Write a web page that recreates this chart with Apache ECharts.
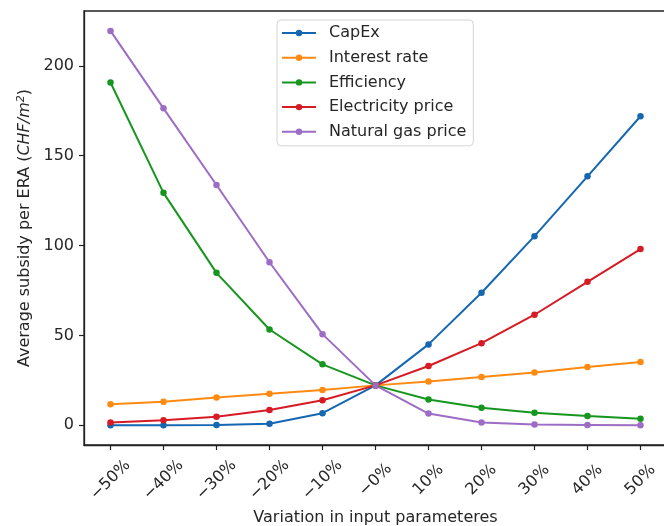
<!DOCTYPE html>
<html>
<head>
<meta charset="utf-8">
<script src="https://cdn.jsdelivr.net/npm/echarts@6/dist/echarts.min.js"></script>
<style>
  html, body { margin: 0; padding: 0; background: #fff; }
  #chart { width: 664px; height: 526px; }
</style>
</head>
<body>
<div id="chart"></div>
<script>
// Sensitivity of the average subsidy to each input parameter
const variations = ['\u221250%', '\u221240%', '\u221230%', '\u221220%', '\u221210%', '\u22120%',
                    '10%', '20%', '30%', '40%', '50%'];
const capex       = [0.0, 0.0, 0.1, 0.8, 6.7, 22.2, 45.0, 73.7, 105.2, 138.5, 171.9];
const interest    = [11.7, 13.1, 15.4, 17.5, 19.6, 22.2, 24.3, 26.9, 29.4, 32.4, 35.2];
const efficiency  = [190.7, 129.3, 84.8, 53.3, 33.9, 22.2, 14.3, 9.8, 7.0, 5.2, 3.7];
const electricity = [1.5, 2.8, 4.8, 8.5, 13.9, 22.2, 33.0, 45.7, 61.5, 79.8, 98.0];
const naturalGas  = [219.4, 176.3, 133.7, 90.7, 50.7, 22.2, 6.5, 1.5, 0.4, 0.2, 0.0];
const yTicks = [0, 50, 100, 150, 200];

const seriesDefs = [
  { name: 'CapEx', data: capex, color: '#1667b2' },
  { name: 'Interest rate', data: interest, color: '#ff8a12' },
  { name: 'Efficiency', data: efficiency, color: '#16961e' },
  { name: 'Electricity price', data: electricity, color: '#d61b24' },
  { name: 'Natural gas price', data: naturalGas, color: '#9d6cc4' }
];

const FONT = 'DejaVu Sans';
const TEXT = '#262626';
const FS = 16;

const chart = echarts.init(document.getElementById('chart'), null, { renderer: 'canvas' });

chart.setOption({
  animation: false,
  backgroundColor: '#fff',
  textStyle: { fontFamily: FONT, color: TEXT },
  grid: {
    left: 84, right: -3, top: 11, bottom: 81,
    outerBoundsMode: 'none',
    containLabel: false,
    show: true, borderColor: '#222', borderWidth: 1.3, backgroundColor: 'transparent'
  },
  legend: {
    orient: 'vertical',
    left: 277, top: 20,
    padding: [4, 7, 5, 4],
    itemWidth: 34, itemHeight: 8, itemGap: 6.7,
    backgroundColor: 'rgba(255,255,255,0.85)',
    borderColor: '#d4d4d4', borderWidth: 1, borderRadius: 4,
    textStyle: { fontFamily: FONT, fontSize: FS, color: TEXT, lineHeight: 18, padding: [0, 0, 0, 8] },
    data: seriesDefs.map(s => s.name)
  },
  xAxis: {
    type: 'category',
    data: variations,
    boundaryGap: true,
    name: 'Variation in input parameteres',
    nameLocation: 'middle',
    nameGap: 61,
    nameTextStyle: { fontFamily: FONT, fontSize: FS, color: TEXT },
    axisLine: { show: true, onZero: false, lineStyle: { color: '#222', width: 1.3 } },
    axisTick: { show: true, alignWithLabel: true, length: 5, lineStyle: { color: '#222', width: 1.2 } },
    axisLabel: {
      interval: 0, rotate: 45, margin: 35,
      align: 'center', verticalAlign: 'middle',
      fontFamily: FONT, fontSize: FS, color: TEXT
    },
    splitLine: { show: false }
  },
  yAxis: {
    type: 'value',
    min: -10.97, max: 230.47,
    name: '{n|Average subsidy per ERA (}{i|CHF/m}{s|2}{n|)}',
    nameLocation: 'middle',
    nameGap: 47,
    nameRotate: 90,
    nameTextStyle: {
      fontFamily: FONT, fontSize: FS, color: TEXT,
      rich: {
        n: { fontFamily: FONT, fontSize: FS, color: TEXT },
        i: { fontFamily: FONT, fontSize: FS, color: TEXT, fontStyle: 'italic' },
        s: { fontFamily: FONT, fontSize: 11, color: TEXT, fontStyle: 'italic', verticalAlign: 'top', padding: [0, 0, 7, 0] }
      }
    },
    axisLine: { show: true, lineStyle: { color: '#222', width: 1.3 } },
    axisTick: { show: true, length: 5, customValues: yTicks, lineStyle: { color: '#222', width: 1.2 } },
    axisLabel: { customValues: yTicks, margin: 10, fontFamily: FONT, fontSize: FS, color: TEXT },
    splitLine: { show: false }
  },
  series: seriesDefs.map(s => ({
    name: s.name,
    type: 'line',
    data: s.data,
    symbol: 'circle',
    symbolSize: 6.5,
    showSymbol: true,
    color: s.color,
    lineStyle: { width: 2, color: s.color },
    itemStyle: { color: s.color }
  }))
});
</script>
</body>
</html>
